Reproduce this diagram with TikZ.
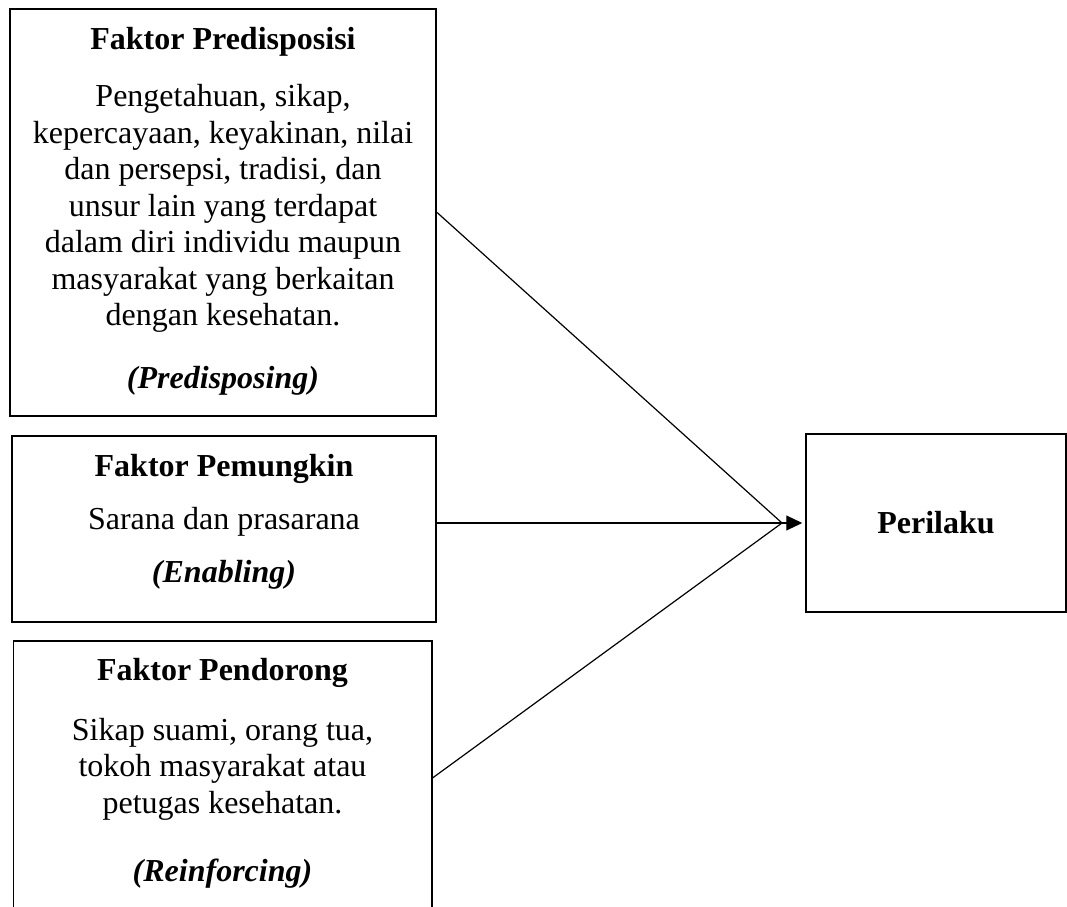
\documentclass[tikz,border=0pt]{standalone}
\usepackage{fontspec}
\setmainfont{Liberation Serif}
\usetikzlibrary{positioning,calc,arrows.meta}
\tikzset{box/.style = {draw, line width = 0.8pt, inner sep = 0, font = \fontsize{12}{13.7}\selectfont}}
\tikzset{thinbox/.style = {draw, line width = 0.4pt, inner sep = 0}}
\tikzset{txt/.style = {align = center, inner sep = 0, font = \fontsize{12}{13.7}\selectfont}}
\tikzset{arr/.style = {-{Triangle[length = 6pt, width = 5.6pt]}}}

\begin{document}
\begin{tikzpicture}[x = 0.375pt, y = -0.375pt, line width = 0.45pt]
      \useasboundingbox (0, 0) rectangle (1067, 907);
      \clip (0, 0) rectangle (1067, 907);
      % faktor boxes
      \node [box, minimum width = 159.75pt, minimum height = 152.6pt] (pred) at (223, 212.5) {};
      \node [box, minimum width = 159pt, minimum height = 69.75pt] (enab) at (224, 529) {};
      \node [thinbox, minimum width = 157.1pt, minimum height = 102.75pt] (reinf) at (222.5, 778) {};
      \node [box, minimum width = 97.5pt, minimum height = 66.75pt] (peril) at (936, 523) {\textbf{Perilaku}};
      \node [txt, below = 7.1pt of pred.north] (predtxt) {\textbf{Faktor Predisposisi}\\[7.6pt]
        Pengetahuan, sikap,\\ kepercayaan, keyakinan, nilai\\ dan persepsi, tradisi, dan\\
        unsur lain yang terdapat\\ dalam diri individu maupun\\ masyarakat yang berkaitan\\
        dengan kesehatan.\\[10pt] \textbf{\textit{(Predisposing)}}};
      \node [txt, below = 7.1pt of enab.north] (enabtxt) {\textbf{Faktor Pemungkin}\\[6.1pt]
        Sarana dan prasarana\\[6.1pt] \textbf{\textit{(Enabling)}}};
      \node [txt, below = 6.4pt of reinf.north] (reinftxt) {\textbf{Faktor Pendorong}\\[8.7pt]
        Sikap suami, orang tua,\\ tokoh masyarakat atau\\ petugas kesehatan.\\[12pt]
        \textbf{\textit{(Reinforcing)}}};
      % connectors
      \coordinate (meet) at (782, 523);
      \draw (pred.east) -- (meet);
      \draw (reinf.east) -- (meet);
      \draw [arr, shorten > = 1pt] (meet -| enab.east) -- (peril.west);
    \end{tikzpicture}
\end{document}
